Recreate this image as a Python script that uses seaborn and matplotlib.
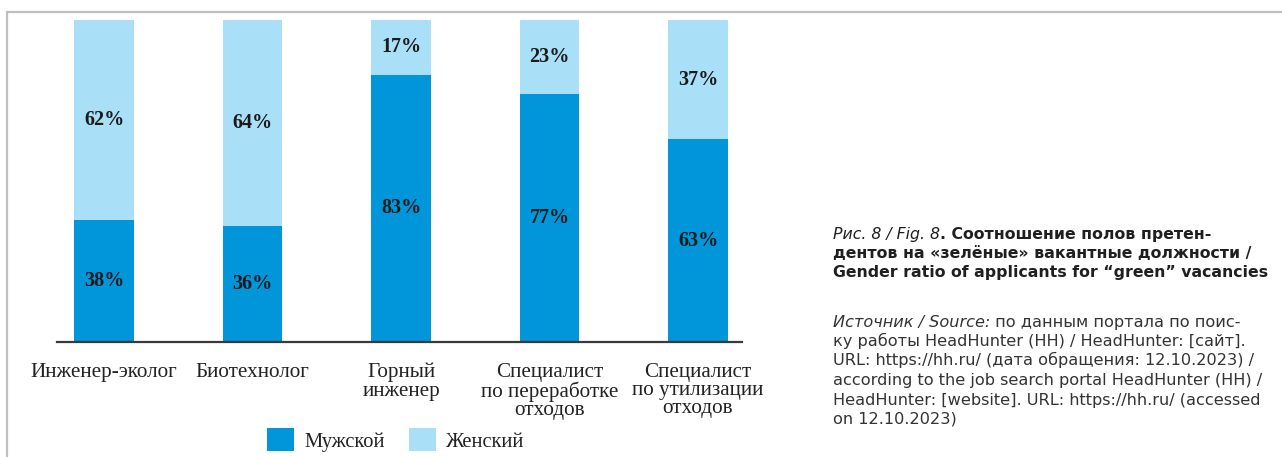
import matplotlib
matplotlib.use("Agg")
import matplotlib.pyplot as plt
from matplotlib.patches import Patch
from matplotlib.lines import Line2D
import seaborn as sns
import pandas as pd

# Data: share of male / female applicants per "green" vacancy
categories = [
    "Инженер-эколог",
    "Биотехнолог",
    "Горный\nинженер",
    "Специалист\nпо переработке\nотходов",
    "Специалист\nпо утилизации\nотходов",
]
male = [38, 36, 83, 77, 63]
female = [62, 64, 17, 23, 37]
series_names = ["Мужской", "Женский"]

color_male = "#0096D9"
color_female = "#AADFF8"

sns.set_theme(style="white")
plt.rcParams["font.family"] = ["Liberation Serif", "DejaVu Serif"]

df = pd.DataFrame({
    "category": categories,
    "male": male,
    "total": [m + f for m, f in zip(male, female)],
})

W, H = 1282, 457
fig = plt.figure(figsize=(W / 100, H / 100), dpi=100)
ax = fig.add_axes([57 / W, 1 - 342 / H, (742 - 57) / W, (342 - 14) / H])

# stacked bars: full bar (female on top) then male part from zero
sns.barplot(data=df, x="category", y="total", color=color_female,
            width=0.4, saturation=1, linewidth=0, ax=ax, order=categories)
sns.barplot(data=df, x="category", y="male", color=color_male,
            width=0.4, saturation=1, linewidth=0, ax=ax, order=categories)

ax.set_xlim(-0.317, 4.296)
ax.set_ylim(0, 101.9)
ax.set_xlabel("")
ax.set_ylabel("")
ax.set_yticks([])
for side in ("left", "right", "top"):
    ax.spines[side].set_visible(False)
ax.spines["bottom"].set_color("#3a3a3a")
ax.spines["bottom"].set_linewidth(1.6)
ax.tick_params(axis="x", length=0, pad=15, labelsize=15.2, colors="#222222")
for lab in ax.get_xticklabels():
    lab.set_linespacing(0.95)
    lab.set_verticalalignment("top")

# segment labels
for i, (m, f) in enumerate(zip(male, female)):
    ax.text(i, m / 2, f"{m}%", ha="center", va="center",
            fontsize=14.5, fontweight="bold", color="#1a1a1a")
    ax.text(i, m + f / 2, f"{f}%", ha="center", va="center",
            fontsize=14.5, fontweight="bold", color="#1a1a1a")

# legend
handles = [Patch(facecolor=color_male, edgecolor="none"),
           Patch(facecolor=color_female, edgecolor="none")]
fig.legend(handles, series_names, loc="center", ncol=2,
           bbox_to_anchor=(396 / W, 1 - 440 / H), frameon=False,
           fontsize=14.8, handlelength=1.3, handleheight=1.3,
           handletextpad=0.5, columnspacing=1.2, borderaxespad=0,
           labelcolor="#222222")

# frame lines
frame_c = "#BFBFBF"
fig.add_artist(Line2D([7 / W, 1], [1 - 12 / H, 1 - 12 / H], color=frame_c,
                      linewidth=1.6, transform=fig.transFigure))
fig.add_artist(Line2D([7 / W, 7 / W], [0, 1 - 12 / H], color=frame_c,
                      linewidth=1.6, transform=fig.transFigure))

# caption and source on the right
sans = ["DejaVu Sans"]
x0 = 833 / W
cap_size = 11.35
src_size = 11.6
cap_c = "#1f1f1f"
src_c = "#333333"


def line(parts, y, size, color):
    """Draw one text line made of (text, style, weight) pieces."""
    xcur = x0
    renderer = fig.canvas.get_renderer()
    for text, style, weight in parts:
        t = fig.text(xcur, 1 - y / H, text, fontsize=size, style=style,
                     fontweight=weight, family=sans, color=color,
                     va="baseline", ha="left")
        bb = t.get_window_extent(renderer=renderer)
        xcur = bb.x1 / W


cap_lines = [
    [("Рис. 8 / Fig. 8", "italic", "normal"),
     (". Соотношение полов претен-", "normal", "bold")],
    [("дентов на «зелёные» вакантные должности /", "normal", "bold")],
    [("Gender ratio of applicants for “green” vacancies", "normal", "bold")],
]
for k, parts in enumerate(cap_lines):
    line(parts, 239.5 + 18.5 * k, cap_size, cap_c)

src_lines = [
    [("Источник / Source:", "italic", "normal"),
     (" по данным портала по поис-", "normal", "normal")],
    [("ку работы HeadHunter (HH) / HeadHunter: [сайт].", "normal", "normal")],
    [("URL: https://hh.ru/ (дата обращения: 12.10.2023) /", "normal", "normal")],
    [("according to the job search portal HeadHunter (HH) /", "normal", "normal")],
    [("HeadHunter: [website]. URL: https://hh.ru/ (accessed", "normal", "normal")],
    [("on 12.10.2023)", "normal", "normal")],
]
for k, parts in enumerate(src_lines):
    line(parts, 326.5 + 19.5 * k, src_size, src_c)

fig.savefig("out.png", dpi=100, facecolor="white")
